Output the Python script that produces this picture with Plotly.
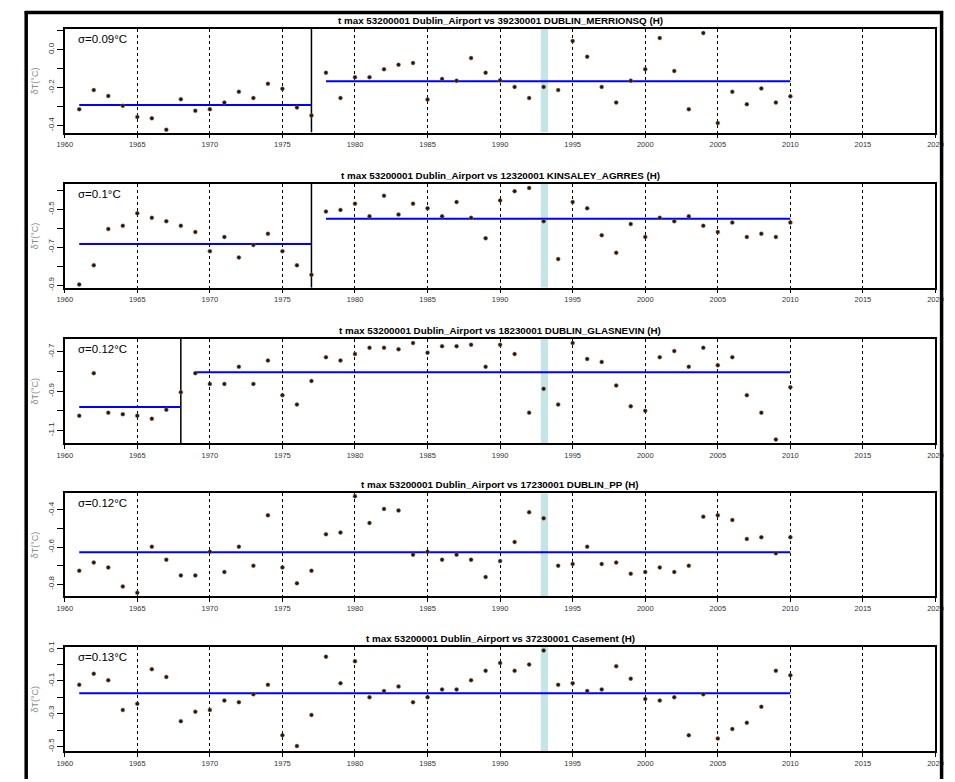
import plotly.graph_objects as go

W, H = 955, 782

years = list(range(1961, 2011))

titles = [
    "t max 53200001 Dublin_Airport vs 39230001 DUBLIN_MERRIONSQ (H)",
    "t max 53200001 Dublin_Airport vs 12320001 KINSALEY_AGRRES (H)",
    "t max 53200001 Dublin_Airport vs 18230001 DUBLIN_GLASNEVIN (H)",
    "t max 53200001 Dublin_Airport vs 17230001 DUBLIN_PP (H)",
    "t max 53200001 Dublin_Airport vs 37230001 Casement (H)",
]
sigmas = ["σ=0.09°C", "σ=0.1°C", "σ=0.12°C", "σ=0.12°C", "σ=0.13°C"]

p1 = [-0.315, -0.214, -0.245, -0.297, -0.356, -0.363, -0.423, -0.262, -0.323, -0.315,
      -0.280, -0.223, -0.256, -0.181, -0.207, -0.306, -0.348, -0.122, -0.256, -0.146,
      -0.146, -0.104, -0.080, -0.071, -0.264, -0.155, -0.164, -0.045, -0.122, -0.162,
      -0.197, -0.256, -0.197, -0.214, 0.045, -0.038, -0.197, -0.280, -0.164, -0.104,
      0.061, -0.113, -0.315, 0.087, -0.388, -0.223, -0.289, -0.205, -0.280, -0.247]
p2 = [-0.897, -0.796, -0.604, -0.587, -0.521, -0.545, -0.563, -0.587, -0.620, -0.721,
      -0.646, -0.754, -0.688, -0.629, -0.721, -0.796, -0.846, -0.512, -0.503, -0.470,
      -0.537, -0.429, -0.528, -0.470, -0.495, -0.537, -0.462, -0.545, -0.653, -0.453,
      -0.404, -0.387, -0.563, -0.763, -0.462, -0.495, -0.637, -0.730, -0.578, -0.646,
      -0.545, -0.563, -0.537, -0.587, -0.620, -0.570, -0.646, -0.629, -0.646, -0.570]
p3 = [-1.026, -0.809, -1.010, -1.018, -1.026, -1.041, -0.995, -0.906, -0.809, -0.864,
      -0.864, -0.777, -0.864, -0.745, -0.921, -0.969, -0.849, -0.728, -0.745, -0.712,
      -0.680, -0.680, -0.688, -0.656, -0.705, -0.672, -0.672, -0.665, -0.777, -0.665,
      -0.712, -1.010, -0.889, -0.969, -0.656, -0.737, -0.752, -0.872, -0.978, -1.001,
      -0.728, -0.697, -0.777, -0.680, -0.769, -0.728, -0.921, -1.010, -1.147, -0.881]
p4 = [-0.728, -0.684, -0.710, -0.813, -0.847, -0.598, -0.668, -0.753, -0.753, -0.625,
      -0.735, -0.598, -0.701, -0.429, -0.710, -0.796, -0.728, -0.531, -0.522, -0.326,
      -0.470, -0.394, -0.403, -0.641, -0.625, -0.668, -0.641, -0.668, -0.762, -0.676,
      -0.573, -0.412, -0.445, -0.701, -0.692, -0.598, -0.692, -0.684, -0.744, -0.735,
      -0.710, -0.735, -0.701, -0.436, -0.429, -0.454, -0.556, -0.547, -0.634, -0.547]
p5 = [-0.124, -0.056, -0.096, -0.278, -0.240, -0.028, -0.076, -0.346, -0.288, -0.278,
      -0.220, -0.230, -0.182, -0.124, -0.432, -0.498, -0.308, 0.048, -0.114, 0.020,
      -0.200, -0.162, -0.134, -0.230, -0.200, -0.152, -0.152, -0.096, -0.038, 0.010,
      -0.038, 0.000, 0.086, -0.124, -0.114, -0.162, -0.152, -0.010, -0.086, -0.210,
      -0.220, -0.200, -0.432, -0.182, -0.452, -0.394, -0.356, -0.258, -0.038, -0.066]
series = [p1, p2, p3, p4, p5]

# mean segments: (start year, end year, mean value)
means = [
    [(1961, 1977, -0.292), (1978, 2010, -0.167)],
    [(1961, 1977, -0.683), (1978, 2010, -0.550)],
    [(1961, 1968, -0.981), (1969, 2010, -0.805)],
    [(1961, 2010, -0.628)],
    [(1961, 2010, -0.176)],
]
breaks = [[1977], [1977], [1968], [], []]
highlight_year = [1992.8, 1993.3]

y_ranges = [[-0.438, 0.11], [-0.914, -0.366], [-1.164, -0.636], [-0.865, -0.310], [-0.53, 0.11]]
y_tickvals = [
    [0.1, 0.0, -0.1, -0.2, -0.3, -0.4],
    [-0.4, -0.5, -0.6, -0.7, -0.8, -0.9],
    [-0.7, -0.8, -0.9, -1.0, -1.1],
    [-0.4, -0.5, -0.6, -0.7, -0.8],
    [0.1, 0.0, -0.1, -0.2, -0.3, -0.4, -0.5],
]
y_ticktext = [
    ["", "0.0", "", "-0.2", "", "-0.4"],
    ["", "-0.5", "", "-0.7", "", "-0.9"],
    ["-0.7", "", "-0.9", "", "-1.1"],
    ["-0.4", "", "-0.6", "", "-0.8"],
    ["0.1", "", "-0.1", "", "-0.3", "", "-0.5"],
]
x_tickvals = list(range(1960, 2021, 5))
x_ticktext = [str(v) for v in x_tickvals]

# layout geometry (pixels of the 955x782 reference)
left_px, right_px = 57.7, 943.3
panel_px = [(23, 128), (180, 285), (337, 442), (493, 597), (648, 754)]

fig = go.Figure()
font_family = "Liberation Sans, Arial, sans-serif"

for i in range(5):
    n = i + 1
    xa = "x" if n == 1 else f"x{n}"
    ya = "y" if n == 1 else f"y{n}"
    top, bot = panel_px[i]
    dom_y = [1 - bot / H, 1 - top / H]
    dom_x = [left_px / W, right_px / W]

    fig.update_layout(**{
        ("xaxis" if n == 1 else f"xaxis{n}"): dict(
            domain=dom_x, anchor=ya, range=[1960, 2020],
            tickvals=x_tickvals, ticktext=x_ticktext,
            showgrid=True, gridcolor="black", gridwidth=1.3, griddash="dot",
            showline=True, linecolor="black", linewidth=1.5, mirror=True,
            ticks="outside", ticklen=4, tickcolor="black", tickwidth=1,
            tickfont=dict(size=7.5, color="#333", family=font_family),
            zeroline=False,
        ),
        ("yaxis" if n == 1 else f"yaxis{n}"): dict(
            domain=dom_y, anchor=xa, range=y_ranges[i],
            tickvals=y_tickvals[i], ticktext=y_ticktext[i], tickangle=-90,
            showgrid=False, zeroline=False,
            showline=True, linecolor="black", linewidth=1.5, mirror=True,
            ticks="outside", ticklen=6, tickcolor="black", tickwidth=1,
            tickfont=dict(size=8, color="#333", family=font_family),
        ),
    })

    # highlighted year band (data coordinates)
    fig.add_trace(go.Scatter(
        x=[highlight_year[0], highlight_year[1], highlight_year[1], highlight_year[0], highlight_year[0]],
        y=[y_ranges[i][0], y_ranges[i][0], y_ranges[i][1], y_ranges[i][1], y_ranges[i][0]],
        mode="lines", fill="toself", fillcolor="#c4e4e6", line=dict(width=0, color="#c4e4e6"),
        xaxis=xa, yaxis=ya, hoverinfo="skip"))
    # break lines
    for b in breaks[i]:
        fig.add_trace(go.Scatter(x=[b, b], y=y_ranges[i], mode="lines",
                                 line=dict(color="black", width=1.5),
                                 xaxis=xa, yaxis=ya, hoverinfo="skip"))
    # mean segments
    for (s, e, m) in means[i]:
        fig.add_trace(go.Scatter(x=[s, e], y=[m, m], mode="lines",
                                 line=dict(color="#0000ff", width=2),
                                 xaxis=xa, yaxis=ya, hoverinfo="skip"))
    # points
    fig.add_trace(go.Scatter(x=years, y=series[i], mode="markers",
                             marker=dict(size=4, color="#1a1a1a",
                                         line=dict(color="#b07040", width=0.5)),
                             xaxis=xa, yaxis=ya))

    # title
    fig.add_annotation(text=f"<b>{titles[i]}</b>", xref="paper", yref="paper",
                       x=(left_px + right_px) / 2 / W, y=1 - (top - 1) / H,
                       xanchor="center", yanchor="bottom", showarrow=False,
                       font=dict(size=9.8, color="black", family=font_family))
    # sigma
    fig.add_annotation(text=sigmas[i], xref="paper", yref="paper",
                       x=69 / W, y=1 - (top + 2) / H,
                       xanchor="left", yanchor="top", showarrow=False,
                       font=dict(size=11.5, color="black", family=font_family))
    # y label
    fig.add_annotation(text="δT(°C)", xref="paper", yref="paper",
                       x=27 / W, y=1 - (top + bot) / 2 / H, textangle=-90,
                       xanchor="center", yanchor="middle", showarrow=False,
                       font=dict(size=9, color="#888", family=font_family))

# outer frame
fig.add_shape(type="line", xref="paper", yref="paper", x0=18.5 / W, x1=18.5 / W,
              y0=0, y1=1 - 5 / H, line=dict(color="black", width=3.5))
fig.add_shape(type="line", xref="paper", yref="paper", x0=17 / W, x1=951 / W,
              y0=1 - 6.5 / H, y1=1 - 6.5 / H, line=dict(color="black", width=3.5))
fig.add_shape(type="line", xref="paper", yref="paper", x0=949.5 / W, x1=949.5 / W,
              y0=0, y1=1 - 5 / H, line=dict(color="black", width=3.5))

fig.update_layout(autosize=True, margin=dict(l=0, r=0, t=0, b=0),
                  plot_bgcolor="white", paper_bgcolor="white", showlegend=False)

fig.write_html("out.html",
               default_width="100vw", default_height="100vh",
               config={"displayModeBar": False},
               post_script="document.body.style.margin='0px';document.body.style.overflow='hidden';")
